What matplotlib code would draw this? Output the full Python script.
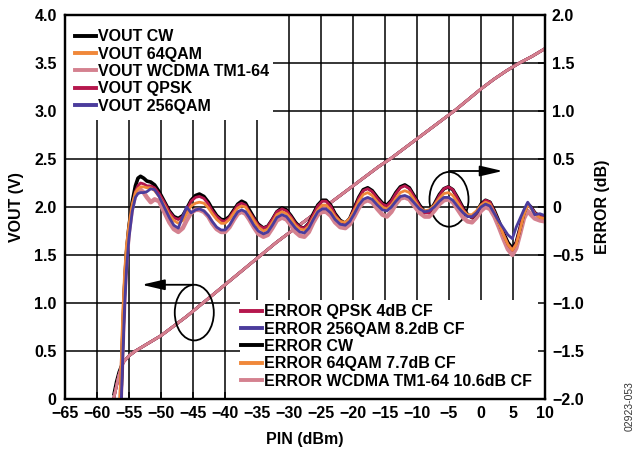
import matplotlib
matplotlib.use("Agg")
import matplotlib.pyplot as plt
from matplotlib.patches import Ellipse, Rectangle
from matplotlib.lines import Line2D

plt.rcParams['font.family'] = ['Liberation Sans', 'DejaVu Sans']
plt.rcParams['font.weight'] = 'bold'
plt.rcParams['font.size'] = 11.5

# detector output voltage vs input power (all modulations coincide)
vout_pin = [-57.4, -57.0, -56.6, -56.2, -55.8, -55.4, -55.0, -54.0, -53.0, -52.0,
            -50.0, -48.0, -46.0, -44.0, -42.0, -40.0, -38.0, -36.0, -34.0, -32.0,
            -30.0, -28.0, -26.0, -24.0, -22.0, -20.0, -18.0, -16.0, -14.0, -12.0,
            -10.0, -8.0, -6.0, -4.0, -2.0, 0.0, 2.0, 4.0, 6.0, 8.0, 10.0]
vout = [0.00, 0.12, 0.24, 0.33, 0.39, 0.42, 0.45, 0.50, 0.54, 0.58,
        0.66, 0.76, 0.86, 0.97, 1.08, 1.19, 1.30, 1.41, 1.52, 1.63,
        1.73, 1.83, 1.93, 2.02, 2.12, 2.22, 2.32, 2.42, 2.51, 2.61,
        2.71, 2.81, 2.91, 3.01, 3.12, 3.23, 3.33, 3.42, 3.50, 3.57, 3.65]
vout_cw = [0.05, 0.18, 0.28, 0.35, 0.39, 0.42, 0.45, 0.50, 0.54, 0.58,
           0.66, 0.76, 0.86, 0.97, 1.08, 1.19, 1.30, 1.41, 1.52, 1.63,
           1.73, 1.83, 1.93, 2.02, 2.12, 2.22, 2.32, 2.42, 2.51, 2.61,
           2.71, 2.81, 2.91, 3.01, 3.12, 3.23, 3.33, 3.42, 3.50, 3.57, 3.65]

# log conformance error (dB)
err_pin = [-56.5, -56.2, -56.0, -55.7, -55.4, -55.0, -54.5, -54.0, -53.6, -53.2,
           -52.7, -52.2, -51.6, -51.0, -50.3, -49.5, -48.7, -48.0, -47.3, -46.6,
           -46.0, -45.3, -44.6, -44.0, -43.3, -42.6, -42.0, -41.3, -40.6, -40.0,
           -39.3, -38.6, -38.0, -37.4, -36.8, -36.2, -35.5, -34.8, -34.0, -33.3,
           -32.6, -31.9, -31.1, -30.4, -29.7, -29.0, -28.3, -27.6, -26.9, -26.2,
           -25.5, -24.8, -24.2, -23.5, -22.8, -22.0, -21.2, -20.5, -19.8, -19.1,
           -18.4, -17.7, -17.0, -16.2, -15.4, -14.7, -14.0, -13.3, -12.6, -11.9,
           -11.2, -10.4, -9.6, -8.8, -8.1, -7.3, -6.5, -5.8, -5.1, -4.4,
           -3.6, -2.8, -2.1, -1.4, -0.7, 0.0, 0.7, 1.4, 2.1, 2.8,
           3.5, 4.2, 4.9, 5.5, 6.1, 6.7, 7.3, 7.8, 8.4, 9.2,
           10.0]
err_cw = [-2.30, -1.85, -1.40, -0.85, -0.48, -0.20, 0.05, 0.22, 0.30, 0.32,
          0.30, 0.27, 0.26, 0.23, 0.16, 0.06, -0.04, -0.10, -0.12, -0.09,
          -0.02, 0.07, 0.12, 0.135, 0.11, 0.05, -0.02, -0.09, -0.13, -0.135,
          -0.10, -0.03, 0.03, 0.06, 0.04, -0.03, -0.11, -0.18, -0.22, -0.20,
          -0.13, -0.05, -0.01, -0.03, -0.09, -0.16, -0.21, -0.22, -0.17, -0.07,
          0.02, 0.07, 0.07, 0.02, -0.07, -0.14, -0.17, -0.12, -0.01, 0.10,
          0.18, 0.20, 0.17, 0.10, 0.04, 0.02, 0.07, 0.15, 0.21, 0.23,
          0.20, 0.11, 0.02, -0.05, -0.05, 0.03, 0.13, 0.19, 0.21, 0.18,
          0.09, -0.01, -0.08, -0.11, -0.06, 0.03, 0.07, 0.05, -0.04, -0.15,
          -0.27, -0.37, -0.43, -0.37, -0.22, -0.06, 0.03, 0.00, -0.06, -0.10,
          -0.11]
err_qpsk = [-2.30, -1.90, -1.45, -0.90, -0.52, -0.25, 0.00, 0.16, 0.22, 0.25,
            0.24, 0.22, 0.22, 0.20, 0.14, 0.05, -0.05, -0.11, -0.13, -0.10,
            -0.03, 0.06, 0.10, 0.11, 0.09, 0.03, -0.04, -0.10, -0.14, -0.15,
            -0.11, -0.04, 0.02, 0.04, 0.02, -0.05, -0.12, -0.19, -0.22, -0.20,
            -0.13, -0.05, -0.02, -0.04, -0.10, -0.17, -0.21, -0.22, -0.17, -0.08,
            0.01, 0.06, 0.06, 0.01, -0.08, -0.15, -0.17, -0.12, -0.02, 0.09,
            0.17, 0.19, 0.16, 0.09, 0.03, 0.01, 0.06, 0.14, 0.20, 0.22,
            0.19, 0.10, 0.01, -0.06, -0.06, 0.02, 0.12, 0.19, 0.21, 0.18,
            0.08, -0.02, -0.09, -0.11, -0.06, 0.02, 0.07, 0.05, -0.05, -0.16,
            -0.28, -0.39, -0.45, -0.38, -0.22, -0.06, 0.02, 0.00, -0.06, -0.10,
            -0.10]
err_64qam = [-2.10, -1.60, -1.15, -0.70, -0.40, -0.18, 0.03, 0.15, 0.19, 0.21,
             0.21, 0.20, 0.20, 0.17, 0.11, 0.02, -0.08, -0.14, -0.17, -0.14,
             -0.07, 0.01, 0.04, 0.05, 0.04, -0.01, -0.07, -0.13, -0.17, -0.17,
             -0.13, -0.06, -0.01, 0.01, 0.00, -0.06, -0.14, -0.21, -0.25, -0.23,
             -0.16, -0.08, -0.05, -0.07, -0.12, -0.19, -0.23, -0.24, -0.20, -0.11,
             -0.03, 0.02, 0.02, -0.03, -0.10, -0.15, -0.16, -0.12, -0.04, 0.06,
             0.13, 0.15, 0.12, 0.05, 0.00, -0.02, 0.02, 0.09, 0.15, 0.17,
             0.15, 0.07, -0.01, -0.04, -0.03, 0.02, 0.09, 0.14, 0.15, 0.12,
             0.04, -0.04, -0.08, -0.08, -0.04, 0.02, 0.05, 0.03, -0.06, -0.17,
             -0.29, -0.39, -0.45, -0.39, -0.24, -0.08, 0.02, -0.01, -0.07, -0.11,
             -0.12]
err_256qam = [-2.40, -2.00, -1.60, -1.05, -0.65, -0.32, -0.05, 0.10, 0.14, 0.15,
              0.15, 0.16, 0.19, 0.18, 0.11, 0.00, -0.11, -0.19, -0.22, -0.10,
              0.00, -0.06, -0.03, -0.02, -0.04, -0.09, -0.15, -0.21, -0.24, -0.24,
              -0.19, -0.11, -0.05, -0.03, -0.05, -0.11, -0.19, -0.25, -0.28, -0.26,
              -0.19, -0.11, -0.08, -0.10, -0.16, -0.22, -0.26, -0.27, -0.22, -0.13,
              -0.05, -0.02, -0.02, -0.06, -0.13, -0.18, -0.19, -0.15, -0.07, 0.02,
              0.08, 0.10, 0.08, 0.02, -0.03, -0.04, 0.00, 0.06, 0.11, 0.12,
              0.10, 0.04, -0.02, -0.05, -0.04, 0.00, 0.06, 0.10, 0.10, 0.07,
              0.00, -0.06, -0.10, -0.10, -0.06, 0.00, 0.03, 0.01, -0.07, -0.15,
              -0.22, -0.29, -0.33, -0.21, -0.12, -0.03, 0.05, 0.00, -0.08, -0.07,
              -0.09]
err_wcdma = [-2.30, -1.85, -1.45, -0.92, -0.55, -0.25, 0.00, 0.13, 0.17, 0.18,
             0.15, 0.10, 0.05, 0.08, 0.06, -0.05, -0.16, -0.23, -0.26, -0.22,
             -0.14, -0.06, -0.03, -0.03, -0.05, -0.10, -0.17, -0.23, -0.26, -0.26,
             -0.21, -0.13, -0.07, -0.05, -0.07, -0.13, -0.21, -0.28, -0.31, -0.29,
             -0.22, -0.14, -0.11, -0.13, -0.19, -0.26, -0.30, -0.31, -0.26, -0.16,
             -0.08, -0.05, -0.05, -0.09, -0.16, -0.21, -0.22, -0.18, -0.10, -0.01,
             0.05, 0.07, 0.05, -0.02, -0.08, -0.10, -0.05, 0.03, 0.09, 0.10,
             0.08, 0.01, -0.06, -0.10, -0.10, -0.04, 0.03, 0.07, 0.08, 0.05,
             -0.03, -0.11, -0.15, -0.16, -0.11, -0.04, 0.00, -0.02, -0.10, -0.21,
             -0.33, -0.44, -0.50, -0.43, -0.28, -0.12, -0.04, -0.08, -0.12, -0.14,
             -0.15]

x_ticks = list(range(-65, 11, 5))
vout_ticks = [0, 0.5, 1.0, 1.5, 2.0, 2.5, 3.0, 3.5, 4.0]
vout_ticklabels = ['0', '0.5', '1.0', '1.5', '2.0', '2.5', '3.0', '3.5', '4.0']
err_ticks = [-2.0, -1.5, -1.0, -0.5, 0, 0.5, 1.0, 1.5, 2.0]
err_ticklabels = ['\u22122.0', '\u22121.5', '\u22121.0', '\u22120.5', '0',
                  '0.5', '1.0', '1.5', '2.0']

BLACK = '#000000'
ORANGE = '#f0883a'
PINK = '#d4818f'
CRIMSON = '#b5174d'
PURPLE = '#4b3c9c'

fig = plt.figure(figsize=(6.36, 4.49), dpi=100)
ax = fig.add_axes([65 / 636, 50 / 449, 480 / 636, 384 / 449])
ax2 = ax.twinx()

# VOUT curves (left axis)
ax.plot(vout_pin, vout_cw, color=BLACK, lw=2)
ax.plot(vout_pin, vout, color=ORANGE, lw=2)
ax.plot(vout_pin, vout, color=PURPLE, lw=2)
ax.plot(vout_pin, vout, color=CRIMSON, lw=2)
ax.plot(vout_pin, vout, color=PINK, lw=2)

# error curves (right axis)
ax2.plot(err_pin, err_wcdma, color=PINK, lw=3.2)
ax2.plot(err_pin, err_cw, color=BLACK, lw=2.6)
ax2.plot(err_pin, err_qpsk, color=CRIMSON, lw=2)
ax2.plot(err_pin, err_64qam, color=ORANGE, lw=2)
ax2.plot(err_pin, err_256qam, color=PURPLE, lw=2)

ax.set_xlim(-65, 10)
ax.set_ylim(0, 4)
ax2.set_ylim(-2, 2)
ax.set_xticks(x_ticks)
ax.set_xticklabels([str(t).replace('-', '\u2212') for t in x_ticks])
ax.set_yticks(vout_ticks)
ax.set_yticklabels(vout_ticklabels)
ax2.set_yticks(err_ticks)
ax2.set_yticklabels(err_ticklabels)

ax.grid(True, color='black', lw=1.1)
ax.set_axisbelow(True)
for a in (ax, ax2):
    for s in a.spines.values():
        s.set_linewidth(1.6)
ax.tick_params(axis='both', direction='in', length=5, width=1.1, labelsize=11.5, pad=5)
ax.tick_params(axis='y', length=0, pad=6)
ax2.tick_params(axis='y', direction='in', length=5, width=1.1, labelsize=11.5, pad=5)

ax.set_xlabel('PIN (dBm)', fontsize=11.5, fontweight='bold', labelpad=8)
ax.set_ylabel('VOUT (V)', fontsize=11.5, fontweight='bold', labelpad=7)
ax2.set_ylabel('ERROR (dB)', fontsize=11.5, fontweight='bold', labelpad=8)

# white panels behind the two legends hide the grid there
ax.add_patch(Rectangle((0, 0.7266), 0.4333, 0.2734, transform=ax.transAxes,
                       fc='white', ec='none', zorder=1))
ax.add_patch(Rectangle((0.3646, 0), 0.6354, 0.2578, transform=ax.transAxes,
                       fc='white', ec='none', zorder=1))

# circles and arrows pointing to the matching axis
ax.add_patch(Ellipse((-44.8, 0.9), 6.1, 0.58, fill=False, ec='black', lw=1.3, zorder=3))
ax.annotate('', xy=(-53.0, 1.19), xytext=(-45.0, 1.19),
            arrowprops=dict(arrowstyle='-|>,head_length=1.2,head_width=0.28',
                            color='black', lw=1.3, shrinkA=0, shrinkB=0))
ax2.add_patch(Ellipse((-5.0, 0.08), 6.1, 0.57, fill=False, ec='black', lw=1.3))
ax2.annotate('', xy=(3.4, 0.375), xytext=(-5.0, 0.375),
             arrowprops=dict(arrowstyle='-|>,head_length=1.2,head_width=0.28',
                             color='black', lw=1.3, shrinkA=0, shrinkB=0))

leg_kw = dict(frameon=False, fontsize=11.5, handlelength=1.3, handletextpad=0.15,
              labelspacing=0.145, borderaxespad=0, borderpad=0)
leg1 = ax2.legend([Line2D([], [], color=c, lw=2.8) for c in
                   (BLACK, ORANGE, PINK, CRIMSON, PURPLE)],
                  ['VOUT CW', 'VOUT 64QAM', 'VOUT WCDMA TM1-64', 'VOUT QPSK', 'VOUT 256QAM'],
                  loc='upper left', bbox_to_anchor=(0.021, 0.9625), **leg_kw)
ax2.add_artist(leg1)
ax2.legend([Line2D([], [], color=c, lw=2.8) for c in
            (CRIMSON, PURPLE, BLACK, ORANGE, PINK)],
           ['ERROR QPSK 4dB CF', 'ERROR 256QAM 8.2dB CF', 'ERROR CW',
            'ERROR 64QAM 7.7dB CF', 'ERROR WCDMA TM1-64 10.6dB CF'],
           loc='lower right', bbox_to_anchor=(0.973, 0.027), **leg_kw)

fig.text(0.99, 0.095, '02923-053', rotation=90, fontsize=7.5, fontweight='normal',
         color='#333333', ha='center', va='center')

fig.savefig('out.png', dpi=100)
